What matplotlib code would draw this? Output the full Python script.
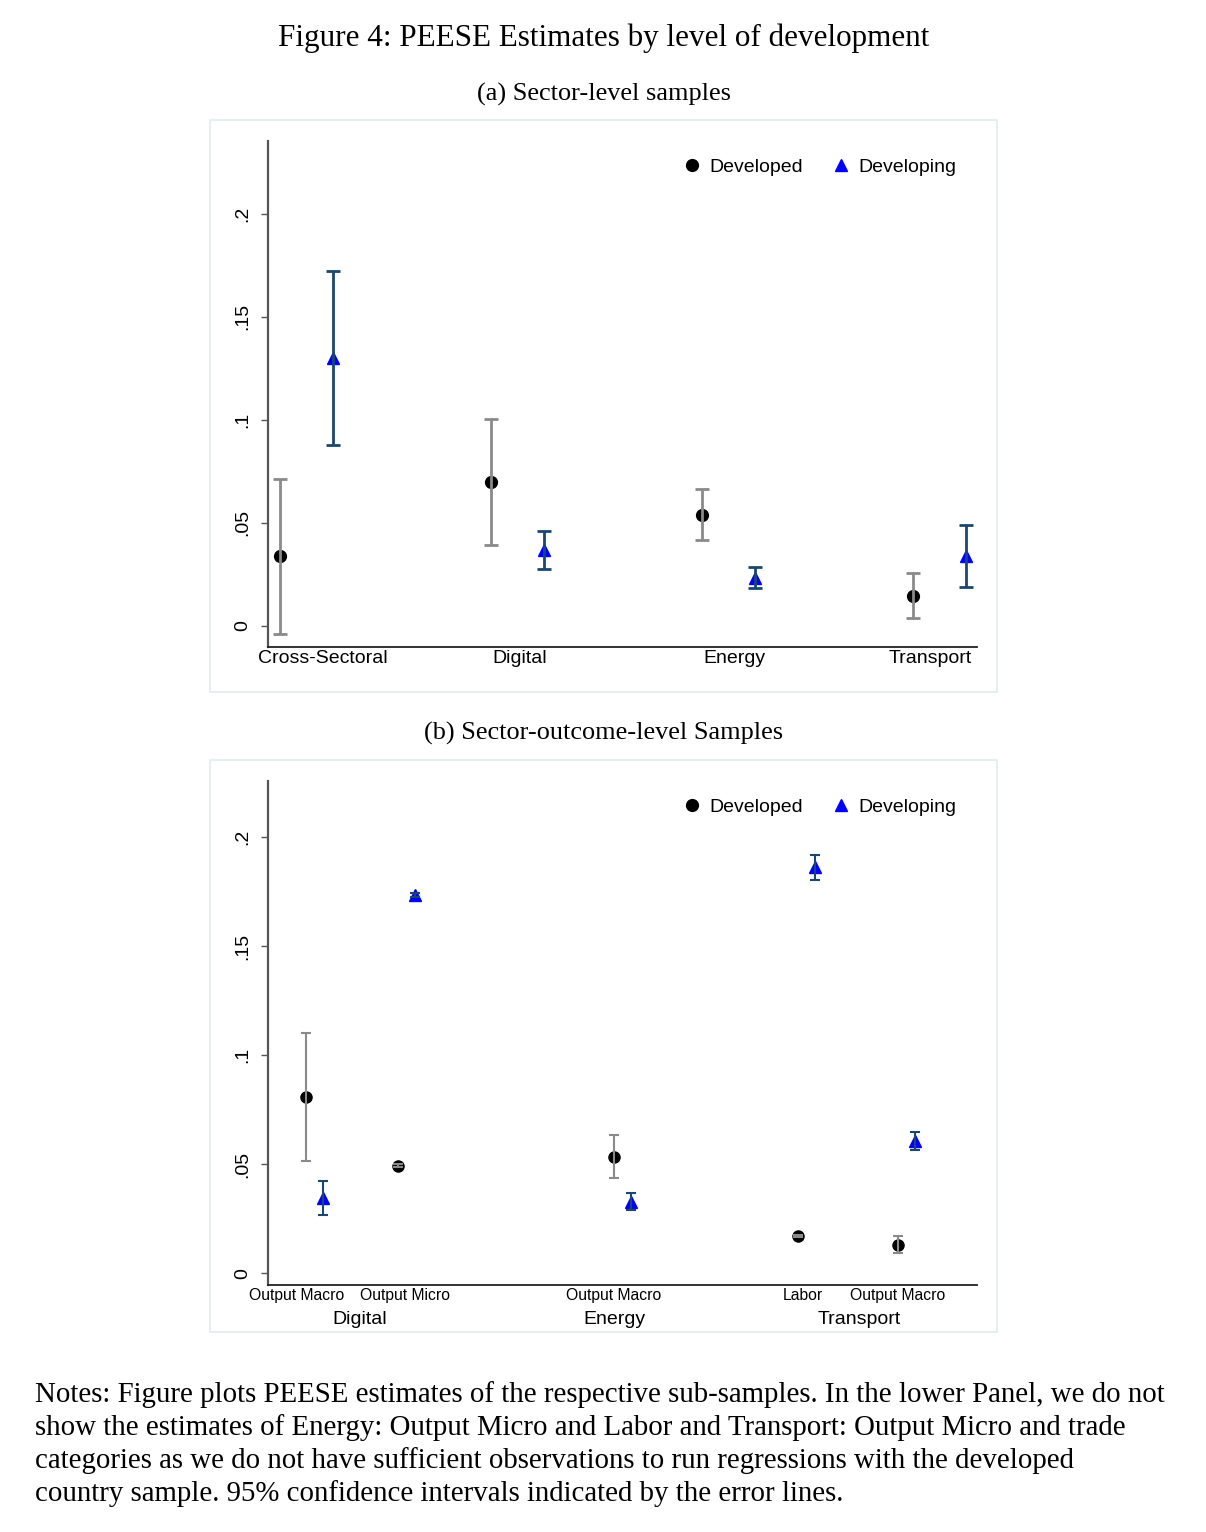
import numpy as np
import matplotlib
matplotlib.use("Agg")
import matplotlib.pyplot as plt
from matplotlib.lines import Line2D
from matplotlib.patches import Rectangle

# ---------------- data ----------------
sectors_a = ["Cross-Sectoral", "Digital", "Energy", "Transport"]
dev_a = [0.0336, 0.0699, 0.0539, 0.0146]
dev_a_lo = [-0.0040, 0.0393, 0.0416, 0.0036]
dev_a_hi = [0.0711, 0.1004, 0.0662, 0.0256]
devng_a = [0.1298, 0.0366, 0.0232, 0.0337]
devng_a_lo = [0.0876, 0.0274, 0.0181, 0.0188]
devng_a_hi = [0.1720, 0.0457, 0.0283, 0.0486]

outcomes_b = ["Output Macro", "Output Micro", "Output Macro", "Labor", "Output Macro"]
groups_b = ["Digital", "Energy", "Transport"]
dev_b = [0.0807, 0.0493, 0.0535, 0.0169, 0.0131]
dev_b_lo = [0.0515, 0.0486, 0.0437, 0.0164, 0.0093]
dev_b_hi = [0.1100, 0.0500, 0.0633, 0.0174, 0.0169]
devng_b = [0.0346, 0.1735, 0.0329, 0.1862, 0.0606]
devng_b_lo = [0.0267, 0.1728, 0.0290, 0.1803, 0.0566]
devng_b_hi = [0.0424, 0.1742, 0.0368, 0.1920, 0.0646]

yticks = [0, 0.05, 0.1, 0.15, 0.2]
yticklabels = ["0", ".05", ".1", ".15", ".2"]

title = "Figure 4: PEESE Estimates by level of development"
sub_a = "(a) Sector-level samples"
sub_b = "(b) Sector-outcome-level Samples"
notes = [
    "Notes: Figure plots PEESE estimates of the respective sub-samples. In the lower Panel, we do not",
    "show the estimates of Energy: Output Micro and Labor and Transport: Output Micro and trade",
    "categories as we do not have sufficient observations to run regressions with the developed",
    "country sample. 95% confidence intervals indicated by the error lines.",
]

# ---------------- layout ----------------
W, H = 1206, 1532
fig = plt.figure(figsize=(W / 100, H / 100), dpi=100)
SERIF = ["Liberation Serif", "DejaVu Serif"]
SANS = ["Liberation Sans", "DejaVu Sans"]

GRAY = "#8a8a8a"
NAVY = "#1a476f"
BLUE = "#0000ff"
FRAME = "#e4eaee"


def px_axes(x0, x1, ytop, ybot):
    return fig.add_axes([x0 / W, 1 - ybot / H, (x1 - x0) / W, (ybot - ytop) / H])


def frame(x0, x1, ytop, ybot):
    fig.patches.append(Rectangle((x0 / W, 1 - ybot / H), (x1 - x0) / W, (ybot - ytop) / H,
                                 transform=fig.transFigure, fill=False, ec=FRAME, lw=1.2))


def style_axes(ax):
    for s in ["top", "right"]:
        ax.spines[s].set_visible(False)
    ax.spines["left"].set_color("#555555")
    ax.spines["left"].set_linewidth(1.6)
    ax.spines["bottom"].set_color("#222222")
    ax.spines["bottom"].set_linewidth(1.3)
    ax.set_yticks(yticks)
    ax.set_yticklabels(yticklabels, rotation=90, va="center", fontfamily=SANS, fontsize=14)
    ax.tick_params(axis="y", length=5, width=1.0, color="#555555", pad=7)
    ax.tick_params(axis="x", length=0)
    ax.patch.set_visible(False)


def legend(ax):
    h = [Line2D([], [], ls="none", marker="o", color="black", ms=8.5),
         Line2D([], [], ls="none", marker="^", color=BLUE, ms=8.5)]
    ax.legend(h, ["Developed", "Developing"], ncol=2, frameon=False,
              loc="center", bbox_to_anchor=(0.779, 0.949),
              prop={"family": SANS, "size": 14},
              handlelength=0.8, handletextpad=0.45, columnspacing=1.6)


def draw(ax, xd, xg, d, dlo, dhi, g, glo, ghi, lw, cap, ms):
    d, dlo, dhi = map(np.asarray, (d, dlo, dhi))
    g, glo, ghi = map(np.asarray, (g, glo, ghi))
    ax.plot(xd, d, ls="none", marker="o", color="black", ms=ms, zorder=2)
    ax.plot(xg, g, ls="none", marker="^", color=BLUE, ms=ms, zorder=2)
    ax.errorbar(xd, d, yerr=[d - dlo, dhi - d], fmt="none", ecolor=GRAY,
                elinewidth=lw, capsize=cap, capthick=lw, zorder=3)
    ax.errorbar(xg, g, yerr=[g - glo, ghi - g], fmt="none", ecolor=NAVY,
                elinewidth=lw, capsize=cap, capthick=lw, zorder=3)


# ---- panel (a) ----
frame(210, 997, 120, 692)
axa = px_axes(268, 977, 141, 647)
style_axes(axa)
pos_a = np.arange(1, len(sectors_a) + 1)
off_a = 0.125
draw(axa, pos_a - off_a, pos_a + off_a, dev_a, dev_a_lo, dev_a_hi,
     devng_a, devng_a_lo, devng_a_hi, lw=2.0, cap=4.8, ms=8.5)
axa.set_xlim(0.817, 4.177)
axa.set_ylim(-0.0104, 0.2353)
nudge_a = [0.079, 0.008, 0.029, -0.043]
axa.set_xticks(pos_a + np.array(nudge_a))
axa.set_xticklabels(sectors_a, fontfamily=SANS, fontsize=14)
axa.tick_params(axis="x", pad=2)
legend(axa)

# ---- panel (b) ----
frame(210, 997, 760, 1332)
axb = px_axes(268, 977, 781, 1285)
style_axes(axb)
pos_b = np.array([305.7, 397.7, 614.0, 798.0, 897.7])
off_b = 17.0
draw(axb, pos_b, pos_b + off_b, dev_b, dev_b_lo, dev_b_hi,
     devng_b, devng_b_lo, devng_b_hi, lw=1.5, cap=3.6, ms=8.0)
axb.set_xlim(268, 977)
axb.set_ylim(-0.0054, 0.2258)
lab_b = [297.0, 404.7, 614.0, 802.7, 898.0]
axb.set_xticks(lab_b)
axb.set_xticklabels(outcomes_b, fontfamily=SANS, fontsize=11.3)
axb.tick_params(axis="x", pad=2)
grp_x = [360.0, 614.0, 859.0]
for gx, gname in zip(grp_x, groups_b):
    fig.text(gx / W, 1 - 1319 / H, gname, ha="center", va="center",
             fontfamily=SANS, fontsize=14)
legend(axb)

# ---------------- texts ----------------
renderer = fig.canvas.get_renderer()


def fit(t, target):
    w = t.get_window_extent(renderer).width
    t.set_fontsize(t.get_fontsize() * target / w)


t = fig.text(604 / W, 1 - 38 / H, title, ha="center", va="center", fontfamily=SERIF, fontsize=20)
fit(t, 652)
t = fig.text(604 / W, 1 - 94 / H, sub_a, ha="center", va="center", fontfamily=SERIF, fontsize=16)
fit(t, 253)
t = fig.text(604 / W, 1 - 733 / H, sub_b, ha="center", va="center", fontfamily=SERIF, fontsize=16)
fit(t, 358)

ts = []
for i, line in enumerate(notes):
    ts.append(fig.text(35 / W, 1 - (1395 + 33 * i) / H, line, ha="left", va="center",
                       fontfamily=SERIF, fontsize=18))
w0 = ts[0].get_window_extent(renderer).width
fs = 18 * 1131 / w0
for t in ts:
    t.set_fontsize(fs)

fig.savefig("out.png", dpi=100, facecolor="white")
